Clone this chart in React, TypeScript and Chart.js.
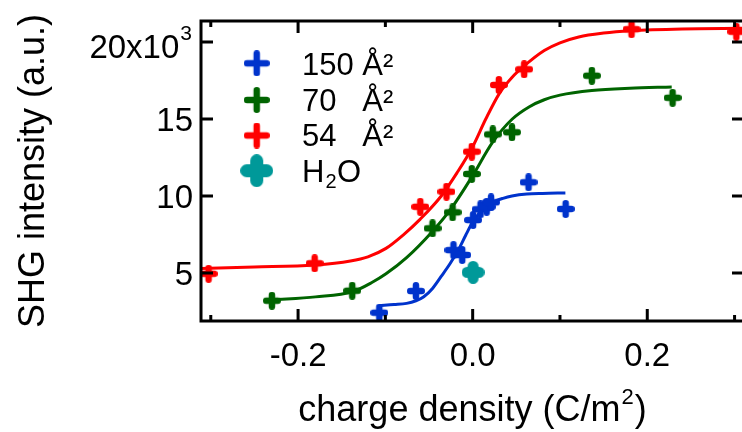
import React, { useEffect, useRef } from "react";
import { Chart, registerables } from "chart.js";

Chart.register(...registerables);

// ---------- data ----------
const seriesLabels = ["150 Å²", "70   Å²", "54   Å²", "H2O"];
const seriesColors = ["#0033cc", "#006400", "#ff0000", "#009999"];

// 150 Å² (blue) measurements
const blueX = [-0.107, -0.065, -0.022, -0.012, 0.0005, 0.009, 0.016, 0.021, 0.064, 0.1065];
const blueY = [2420, 3830, 6490, 6170, 8440, 9140, 9300, 9590, 10890, 9160];
// 70 Å² (green) measurements
const greenX = [-0.23, -0.138, -0.046, -0.023, -0.001, 0.023, 0.045, 0.1365, 0.229];
const greenY = [3200, 3850, 7900, 8940, 11430, 14000, 14140, 17810, 16380];
// 54 Å² (red) measurements
const redX = [-0.3025, -0.181, -0.06, -0.03, -0.001, 0.03, 0.059, 0.182, 0.302];
const redY = [4950, 5630, 9300, 10280, 12880, 17210, 18230, 20830, 20670];
// H2O
const waterX = [0.0005];
const waterY = [5045];

// fitted curves
const blueFitX = [-0.107, -0.09, -0.0757, -0.065, -0.056, -0.046, -0.0363, -0.026, -0.0165, -0.008, -0.0008, 0.007, 0.015, 0.025, 0.0347, 0.045, 0.062, 0.08, 0.1062];
const blueFitY = [2875, 2950, 3030, 3200, 3460, 4000, 4760, 5600, 6490, 7450, 8225, 8850, 9305, 9650, 9850, 10000, 10130, 10170, 10195];
const greenFitX = [-0.2296, -0.18, -0.1377, -0.115, -0.0993, -0.0757, -0.0462, -0.0232, -0.0008, 0.0229, 0.0454, 0.065, 0.082, 0.1, 0.1365, 0.18, 0.228];
const greenFitY = [3245, 3450, 3785, 4400, 4950, 6000, 7700, 9300, 11250, 13500, 15000, 15800, 16250, 16550, 16850, 17000, 17080];
const redFitX = [-0.311, -0.25, -0.181, -0.14, -0.12, -0.0993, -0.08, -0.06, -0.036, -0.018, 0, 0.015, 0.031, 0.045, 0.058, 0.082, 0.1, 0.1215, 0.15, 0.181, 0.24, 0.31];
const redFitY = [5300, 5390, 5520, 5780, 6050, 6600, 7450, 8500, 10000, 11500, 13200, 15000, 16700, 17700, 18400, 19450, 19950, 20330, 20580, 20730, 20850, 20890];

// axes
const xMajorTicks = [-0.2, 0, 0.2];
const xMajorLabels = ["-0.2", "0.0", "0.2"];
const xMinorTicks = [-0.3, -0.1, 0.1, 0.3];
const yMajorTicks = [5000, 10000, 15000, 20000];
const yTickLabels = ["5", "10", "15", "20x10"];
const xTitle = "charge density (C/m";
const yTitle = "SHG intensity (a.u.)";

const FONT = "'Liberation Sans', Arial, Helvetica, sans-serif";

function pts(xs: number[], ys: number[]) {
  return xs.map((x, i) => ({ x, y: ys[i] }));
}

function makePlus(color: string, size: number, thick: number) {
  const c = document.createElement("canvas");
  c.width = size;
  c.height = size;
  const g = c.getContext("2d")!;
  g.strokeStyle = color;
  g.lineWidth = thick;
  g.lineCap = "round";
  const h = size / 2;
  const r = size / 2 - thick / 2;
  g.beginPath();
  g.moveTo(h - r, h);
  g.lineTo(h + r, h);
  g.moveTo(h, h - r);
  g.lineTo(h, h + r);
  g.stroke();
  return c;
}

export default function App() {
  const ref = useRef<HTMLCanvasElement | null>(null);

  useEffect(() => {
    const canvas = ref.current;
    if (!canvas) return;

    const markers = [
      makePlus(seriesColors[0], 18, 6.5),
      makePlus(seriesColors[1], 18, 6.5),
      makePlus(seriesColors[2], 18, 6.5),
      makePlus(seriesColors[3], 23, 11),
    ];
    const legendMarkers = [
      makePlus(seriesColors[0], 26, 6.5),
      makePlus(seriesColors[1], 26, 6.5),
      makePlus(seriesColors[2], 26, 6.5),
      makePlus(seriesColors[3], 33, 13),
    ];

    const decor = {
      id: "decor",
      afterDraw(chart: any) {
        const { ctx, chartArea: a, scales } = chart;
        const xs = scales.x;
        const ys = scales.y;
        ctx.save();
        ctx.strokeStyle = "#000";
        ctx.lineWidth = 3;
        ctx.lineCap = "butt";
        ctx.strokeRect(a.left, a.top, a.right - a.left, a.bottom - a.top);
        ctx.beginPath();
        for (const v of xMajorTicks) {
          const px = xs.getPixelForValue(v);
          ctx.moveTo(px, a.bottom);
          ctx.lineTo(px, a.bottom - 12);
          ctx.moveTo(px, a.top);
          ctx.lineTo(px, a.top + 12);
        }
        for (const v of xMinorTicks) {
          const px = xs.getPixelForValue(v);
          ctx.moveTo(px, a.bottom);
          ctx.lineTo(px, a.bottom - 6);
          ctx.moveTo(px, a.top);
          ctx.lineTo(px, a.top + 6);
        }
        for (const v of yMajorTicks) {
          const py = ys.getPixelForValue(v);
          ctx.moveTo(a.left, py);
          ctx.lineTo(a.left + 12, py);
          ctx.moveTo(a.right, py);
          ctx.lineTo(a.right - 12, py);
        }
        ctx.stroke();

        ctx.fillStyle = "#000";
        // x tick labels
        ctx.font = `33px ${FONT}`;
        ctx.textAlign = "center";
        ctx.textBaseline = "alphabetic";
        xMajorTicks.forEach((v, i) => {
          ctx.fillText(xMajorLabels[i], xs.getPixelForValue(v), 366);
        });
        // y tick labels
        ctx.textAlign = "right";
        yMajorTicks.forEach((v, i) => {
          const py = ys.getPixelForValue(v);
          if (i === yMajorTicks.length - 1) {
            ctx.font = `21px ${FONT}`;
            const w2 = ctx.measureText("3").width;
            ctx.fillText("3", a.left - 9, py - 2);
            ctx.font = `33px ${FONT}`;
            ctx.fillText(yTickLabels[i], a.left - 9 - w2 - 1, py + 16);
          } else {
            ctx.font = `33px ${FONT}`;
            ctx.fillText(yTickLabels[i], a.left - 8, py + 12);
          }
        });

        // x title
        ctx.font = `36px ${FONT}`;
        const wMain = ctx.measureText(xTitle).width;
        ctx.font = `22px ${FONT}`;
        const wSup = ctx.measureText("2").width;
        ctx.font = `36px ${FONT}`;
        const wClose = ctx.measureText(")").width;
        const total = wMain + wSup + wClose + 2;
        const cx = (a.left + a.right) / 2;
        let tx = cx - total / 2;
        ctx.textAlign = "left";
        ctx.fillText(xTitle, tx, 421);
        tx += wMain + 1;
        ctx.font = `22px ${FONT}`;
        ctx.fillText("2", tx, 404);
        tx += wSup + 1;
        ctx.font = `36px ${FONT}`;
        ctx.fillText(")", tx, 421);

        // y title
        ctx.save();
        ctx.translate(43.5, 171);
        ctx.rotate(-Math.PI / 2);
        ctx.textAlign = "center";
        ctx.font = `36px ${FONT}`;
        ctx.fillText(yTitle, 0, 0);
        ctx.restore();

        // legend
        const legY = [63.3, 100, 135.5, 170.7];
        const baseY = [74.5, 110.5, 146, 181.7];
        legendMarkers.forEach((m, i) => {
          ctx.drawImage(m, 256.7 - m.width / 2, legY[i] - m.height / 2);
        });
        ctx.font = `31px ${FONT}`;
        ctx.textAlign = "left";
        for (let i = 0; i < 3; i++) ctx.fillText(seriesLabels[i], 302, baseY[i]);
        // H2O with subscript
        let lx = 302;
        ctx.fillText("H", lx, baseY[3]);
        lx += ctx.measureText("H").width;
        ctx.font = `20px ${FONT}`;
        ctx.fillText("2", lx + 1, baseY[3] + 6.5);
        lx += ctx.measureText("2").width + 1.5;
        ctx.font = `31px ${FONT}`;
        ctx.fillText("O", lx, baseY[3]);

        ctx.restore();
      },
    };

    const curve = (xs: number[], ys: number[], color: string) => ({
      data: pts(xs, ys),
      showLine: true,
      borderColor: color,
      borderWidth: 3,
      pointRadius: 0,
      cubicInterpolationMode: "monotone" as const,
      fill: false,
      order: 2,
      clip: false as const,
    });
    const scatter = (xs: number[], ys: number[], i: number) => ({
      label: seriesLabels[i],
      data: pts(xs, ys),
      showLine: false,
      pointStyle: markers[i],
      pointRadius: 10,
      borderColor: seriesColors[i],
      backgroundColor: seriesColors[i],
      order: 1,
      clip: false as const,
    });

    const chart = new Chart(canvas, {
      type: "scatter",
      data: {
        datasets: [
          curve(blueFitX, blueFitY, seriesColors[0]),
          curve(greenFitX, greenFitY, seriesColors[1]),
          curve(redFitX, redFitY, seriesColors[2]),
          scatter(blueX, blueY, 0),
          scatter(greenX, greenY, 1),
          scatter(redX, redY, 2),
          scatter(waterX, waterY, 3),
        ] as any,
      },
      options: {
        animation: false,
        responsive: false,
        events: [],
        layout: { padding: { left: 201, top: 21, right: 16, bottom: 111 } },
        plugins: { legend: { display: false }, tooltip: { enabled: false } },
        scales: {
          x: { type: "linear", min: -0.3112, max: 0.3108, display: false },
          y: { type: "linear", min: 1884, max: 21364, display: false },
        },
      },
      plugins: [decor],
    });
    return () => chart.destroy();
  }, []);

  return (
    <div style={{ position: "fixed", left: 0, top: 0, width: 742, height: 432, overflow: "hidden", background: "#fff" }}>
      <canvas ref={ref} width={760} height={432} style={{ display: "block", width: 760, height: 432 }} />
    </div>
  );
}
